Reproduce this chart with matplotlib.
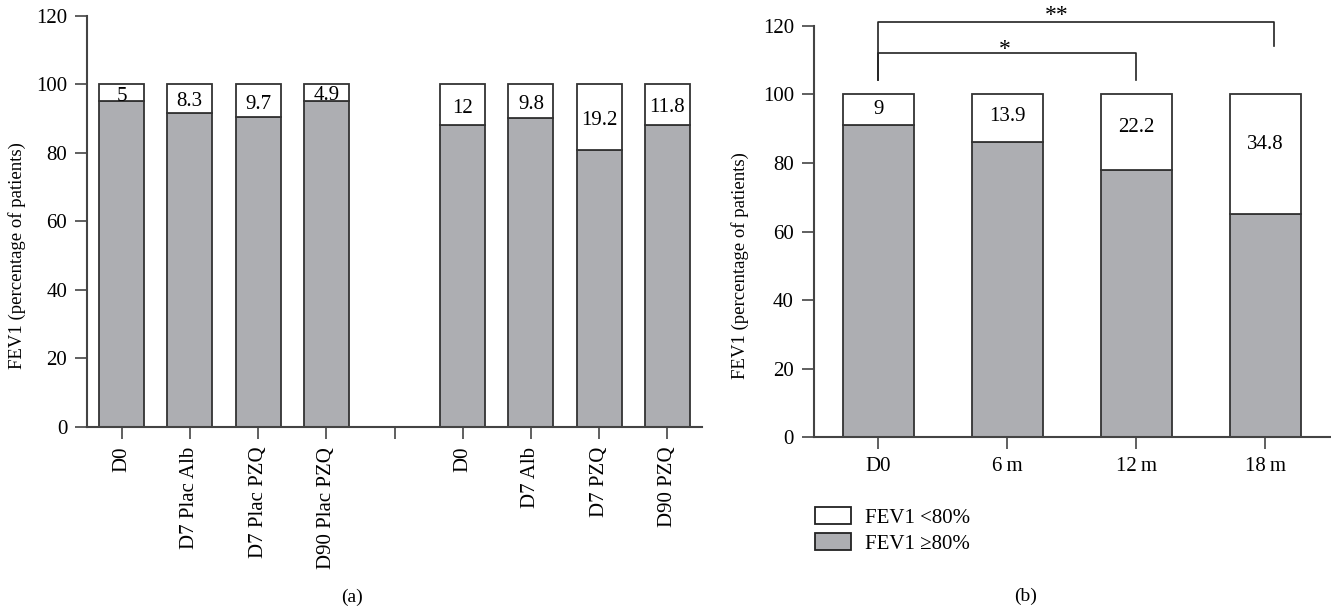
import matplotlib
matplotlib.use("Agg")
import matplotlib.pyplot as plt
from matplotlib.patches import Patch

plt.rcParams['font.family'] = ['Liberation Serif', 'DejaVu Serif']

# ---- data ----
a_labels = ["D0", "D7 Plac Alb", "D7 Plac PZQ", "D90 Plac PZQ", "",
            "D0", "D7 Alb", "D7 PZQ", "D90 PZQ"]
a_low = [5, 8.3, 9.7, 4.9, None, 12, 9.8, 19.2, 11.8]        # FEV1 <80%
a_high = [95, 91.7, 90.3, 95.1, None, 88, 90.2, 80.8, 88.2]  # FEV1 >=80%
a_text = ["5", "8.3", "9.7", "4.9", "", "12", "9.8", "19.2", "11.8"]

b_labels = ["D0", "6\u2009m", "12\u2009m", "18\u2009m"]
b_low = [9, 13.9, 22.2, 34.8]
b_high = [91, 86.1, 77.8, 65.2]
b_text = ["9", "13.9", "22.2", "34.8"]

yticks = [0, 20, 40, 60, 80, 100, 120]

GRAY = "#adaeb2"
EDGE = "#333333"
SPINE = "#444444"
FS = 15

fig = plt.figure(figsize=(13.31, 6.09), dpi=100)
axa = fig.add_axes([0.0657, 0.2995, 0.4614, 0.6749])
axb = fig.add_axes([0.6116, 0.2819, 0.3884, 0.6759])


def style(ax):
    for s in ["top", "right"]:
        ax.spines[s].set_visible(False)
    for s in ["left", "bottom"]:
        ax.spines[s].set_color(SPINE)
        ax.spines[s].set_linewidth(1.5)
    ax.tick_params(axis="both", direction="out", length=8.5, width=1.2,
                   color=SPINE, labelsize=FS, pad=6)
    ax.set_ylim(0, 120)
    ax.set_yticks(yticks)
    ax.set_ylabel("FEV1 (percentage of patients)", fontsize=13.5)


# panel (a)
xa = [i for i in range(len(a_labels))]
for i in xa:
    if a_high[i] is None:
        continue
    axa.bar(i, a_high[i], width=0.66, color=GRAY, edgecolor=EDGE, linewidth=1.3, zorder=2)
    axa.bar(i, a_low[i], bottom=a_high[i], width=0.66, color="white",
            edgecolor=EDGE, linewidth=1.3, zorder=2)
    axa.text(i, 100 - a_low[i] / 2 - 1.0, a_text[i], ha="center", va="center",
             fontsize=FS, zorder=3)
style(axa)
axa.set_xlim(-0.5, 8.5)
axa.set_xticks(xa)
axa.set_xticklabels(a_labels, rotation=90)

# panel (b)
xb = list(range(len(b_labels)))
axb.bar(xb, b_high, width=0.552, color=GRAY, edgecolor=EDGE, linewidth=1.3, zorder=2)
axb.bar(xb, b_low, bottom=b_high, width=0.552, color="white", edgecolor=EDGE,
        linewidth=1.3, zorder=2)
for i in xb:
    axb.text(i, 100 - b_low[i] * 0.4 - 0.8, b_text[i], ha="center", va="center",
             fontsize=FS, zorder=3)
style(axb)
axb.set_xlim(-0.5, 3.51)
axb.set_xticks(xb)
axb.set_xticklabels(b_labels)

# ylabel positions (centered on the 0-100 range)
axa.yaxis.set_label_coords(-0.100, 50 / 120)
axb.yaxis.set_label_coords(-0.126, 50 / 120)

# significance brackets
lk = dict(color="#222222", linewidth=1.2, clip_on=False)
axb.plot([0, 0, 3.07, 3.07], [104.2, 121, 121, 114.2], **lk)
axb.plot([0, 0, 2.0, 2.0], [104.2, 112, 112, 104.2], **lk)
axb.text(1.385, 123.0, "**", ha="center", va="center", fontsize=17, clip_on=False)
axb.text(0.98, 113.2, "*", ha="center", va="center", fontsize=17, clip_on=False)

# legend
handles = [Patch(facecolor="white", edgecolor="#222222", linewidth=1.3, label="FEV1 <80%"),
           Patch(facecolor=GRAY, edgecolor="#222222", linewidth=1.3, label="FEV1 \u226580%")]
fig.legend(handles=handles, loc="upper left", bbox_to_anchor=(0.612, 0.168),
           frameon=False, fontsize=FS, handlelength=1.75, handleheight=0.9,
           handletextpad=0.65, labelspacing=0.25, borderpad=0.0, borderaxespad=0.0)

fig.text(352 / 1331, 1 - 597 / 609, "(a)", ha="center", va="center", fontsize=14)
fig.text(1026 / 1331, 1 - 596 / 609, "(b)", ha="center", va="center", fontsize=14)

fig.savefig("out.png", dpi=100)
